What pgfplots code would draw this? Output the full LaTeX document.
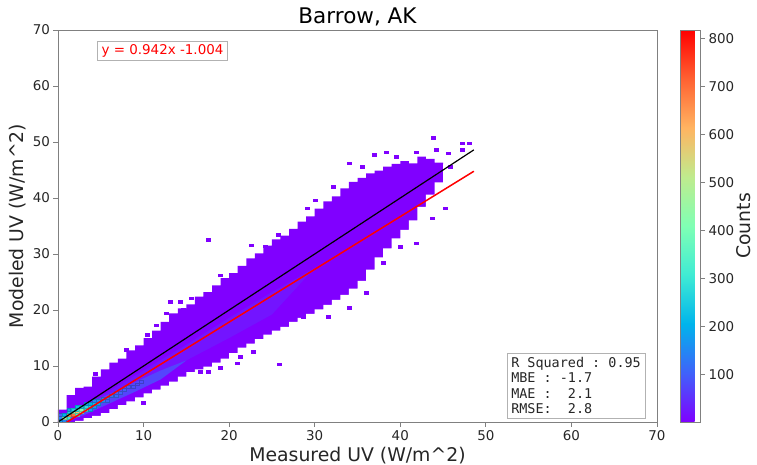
\documentclass[border=0pt]{standalone}
\usepackage{pgfplots}
\pgfplotsset{compat=1.18}
\usepackage{fontspec}
\setmainfont{DejaVu Sans}
\setmonofont{DejaVu Sans Mono}
\definecolor{c1}{rgb}{0.5,0,1}
\definecolor{c30}{rgb}{0.45,0.08,1}
\definecolor{c80}{rgb}{0.33,0.27,0.99}
\definecolor{txt}{gray}{0.15}
\definecolor{spine}{gray}{0.5}
\pgfplotsset{colormap={rainbowmpl}{rgb=(0.5,0,1) rgb=(0.25,0.383,0.981) rgb=(0,0.707,0.924) rgb=(0.25,0.924,0.831) rgb=(0.5,1,0.707) rgb=(0.75,0.924,0.556) rgb=(1,0.707,0.383) rgb=(1,0.383,0.195) rgb=(1,0,0)}}
\pgfplotstableread{
x hi
0 2.2
1 4.8
2 6.1
3 6.3
4 8.1
5 9.4
6 10.6
7 11.3
8 12.8
9 13.7
10 15.0
11 16.3
12 17.9
13 19.4
14 20.3
15 21.0
16 22.4
17 23.2
18 24.4
19 25.7
20 26.6
21 27.9
22 29.2
23 30.1
24 31.5
25 32.6
26 33.3
27 34.5
28 35.8
29 36.7
30 38.1
31 39.4
32 40.3
33 41.7
34 42.9
35 43.6
36 44.4
37 44.9
38 45.6
39 46.1
40 46.6
41 46.2
42 47.4
43 47.0
44 46.3
45 0
}\bandhi
\pgfplotstableread{
x lo
0 0
1 0
2 0.2
3 0.7
4 1.1
5 1.6
6 2.3
7 3.0
8 3.7
9 4.4
10 5.1
11 5.8
12 6.5
13 7.2
14 8.1
15 8.9
16 9.4
17 9.9
18 10.6
19 11.3
20 12.3
21 13.3
22 14.0
23 14.8
24 15.6
25 16.3
26 17.0
27 17.9
28 18.6
29 19.3
30 20.1
31 20.9
32 21.8
33 22.7
34 23.8
35 25.2
36 27.2
37 29.4
38 31.0
39 32.8
40 34.3
41 36.0
42 38.4
43 40.6
44 42.8
45 46
46 0
}\bandlo
\pgfplotstableread{
x y c
0.25 0.25 180
0.25 0.75 150
0.25 1.25 100
0.75 0.25 150
0.75 0.75 450
0.75 1.25 200
1.25 0.75 300
1.25 1.25 620
1.25 1.75 250
1.25 2.25 180
1.75 1.25 700
1.75 1.75 450
1.75 2.25 250
2.25 1.75 600
2.25 1.25 350
2.25 2.25 300
2.25 2.75 220
2.75 1.75 400
2.75 2.25 420
2.75 2.75 250
3.25 2.25 300
3.25 2.75 280
3.25 3.25 180
3.75 2.75 260
3.75 2.25 180
3.75 3.25 200
4.25 3.25 220
4.25 2.75 170
4.25 3.75 150
4.75 3.25 180
4.75 3.75 150
5.25 3.75 150
5.25 4.25 130
5.75 4.25 130
5.75 3.75 110
6.25 4.75 120
6.75 4.75 110
6.75 5.25 100
7.25 5.25 100
7.75 5.75 95
8.25 6.25 90
8.75 6.25 85
9.25 6.75 80
9.75 7.25 80
}\core
\begin{document}
\begin{tikzpicture}
\path[use as bounding box] (-58bp,-43bp) rectangle (699bp,422bp);
\begin{axis}[
  at={(0,0)}, anchor=south west,
  width=599bp, height=392bp, scale only axis,
  xmin=0, xmax=70, ymin=0, ymax=70,
  xtick={0,10,...,70}, ytick={0,10,...,70},
  xtick pos=bottom, ytick pos=left,
  tick align=outside, major tick length=4.5bp,
  tick style={spine, line width=0.9bp},
  axis line style={spine, line width=0.9bp},
  ticklabel style={font=\fontsize{13.5}{16}\selectfont, text=txt},
  /pgf/number format/assume math mode=true,
  xlabel={Measured UV (W/m\textasciicircum 2)},
  ylabel={Modeled UV (W/m\textasciicircum 2)},
  label style={font=\fontsize{18.9}{22}\selectfont, text=txt},
  title={Barrow, AK},
  every axis title/.style={at={(0.5,1)}, anchor=base, yshift=7bp, font=\fontsize{21.6}{25}\selectfont, text=black},
  axis on top, clip marker paths=true,
  colorbar, colormap name=rainbowmpl,
  point meta min=1, point meta max=817,
  colorbar style={
    width=20bp,
    at={(parent axis.north east)}, anchor=north west, xshift=15bp,
    ytick={100,200,...,800},
    yticklabel pos=right, ytick pos=right,
    ylabel={Counts},
    ylabel style={at={(axis description cs:2.6,0.5)}, anchor=north, font=\fontsize{18.9}{22}\selectfont, text=txt},
    yticklabel style={font=\fontsize{13.5}{16}\selectfont, text=txt},
    /pgf/number format/assume math mode=true,
    axis line style={spine, line width=0.9bp},
    tick style={spine, line width=0.9bp},
    tick align=outside, major tick length=4.5bp,
  },
]
% main band: area under upper edge, then blank out area under lower edge
\addplot[const plot, fill=c1, draw=none, forget plot] table[x=x, y=hi] {\bandhi} \closedcycle;
\addplot[const plot, fill=white, draw=none, forget plot] table[x=x, y=lo] {\bandlo} \closedcycle;
% denser core
\addplot[fill=c30, draw=none, forget plot] coordinates {
(0.5,1.0) (5,4.6) (10,9.2) (15,13.8) (20,18.6) (25,23.2) (30,27.5)
(25,19.2) (20,15.0) (15,11.0) (10,7.0) (5,3.0) (1,0.3) (0.5,1.0)};
\addplot[fill=c80, draw=none, forget plot] coordinates {
(0.3,0.8) (3,2.8) (6,5.0) (9,7.1) (12,9.2) (15,11.0)
(12,7.6) (9,5.4) (6,3.3) (3,1.2) (1,0.1) (0.3,0.8)};
% outlying single-count bins
\addplot[only marks, mark=square*, mark size=2.0pt, color=c1, mark options={yscale=0.654}, forget plot] coordinates {
(17.6,32.5) (13.1,21.5) (14.3,21.5) (12.7,19.4) (14.6,20) (15.6,22.1) (17,21.8) (18.9,26.2)
(22.6,31.6) (24.2,31.4) (25.7,33.4) (26.5,33) (29.1,38.2) (30,39.6) (32.2,42) (34,46.2)
(35.5,45.6) (37,47.7) (38.4,48.2) (41.9,48.2) (42.3,45.6) (43.8,50.8) (47.2,49.8) (48.1,49.8)
(45.6,48) (47.2,48.6) (45.2,38.2) (43.7,36.4) (41.9,31.9) (40,31.3) (38,28.4) (35.5,28.3)
(25.8,10.3) (34,20.4) (36,23.1) (31.6,18.8) (28.7,18.8) (20.9,10.5) (21.3,11.7) (16.6,9)
(17.6,9) (9.9,3.4) (22.8,12.6) (19,9.7) (8,12.9) (4.3,8.6) (10.4,15.6) (11.5,17.3)
(44.6,44.3) (45.8,45.6) (44.2,48.6) (39.5,47.4) (36.8,30.5) (39.3,33.2)
};
\addplot[scatter, only marks, mark=square*, mark size=2.0pt, mark options={yscale=0.654}, point meta=explicit, forget plot] table[x=x, y=y, meta=c] {\core};
% 1:1 line and fit
\addplot[black, line width=1.2bp, forget plot] coordinates {(0,0) (48.6,48.6)};
\addplot[red, line width=1.5bp, forget plot] coordinates {(0,-1.004) (48.6,44.777)};
\node[draw=black!30, fill=white, text=red, font=\fontsize{13.5}{16}\selectfont, anchor=north west, inner xsep=4bp, inner ysep=3bp] at (axis cs:4.6,68) {y = 0.942x -1.004};
\node[draw=black!30, fill=white, text=txt, font=\fontsize{13.5}{15.5}\ttfamily, align=left, anchor=south east, inner sep=4bp] at (axis cs:68.6,0.7) {R~Squared~:~0.95\\MBE~:~-1.7\\MAE~:~~2.1\\RMSE:~~2.8};
\end{axis}
\end{tikzpicture}
\end{document}
